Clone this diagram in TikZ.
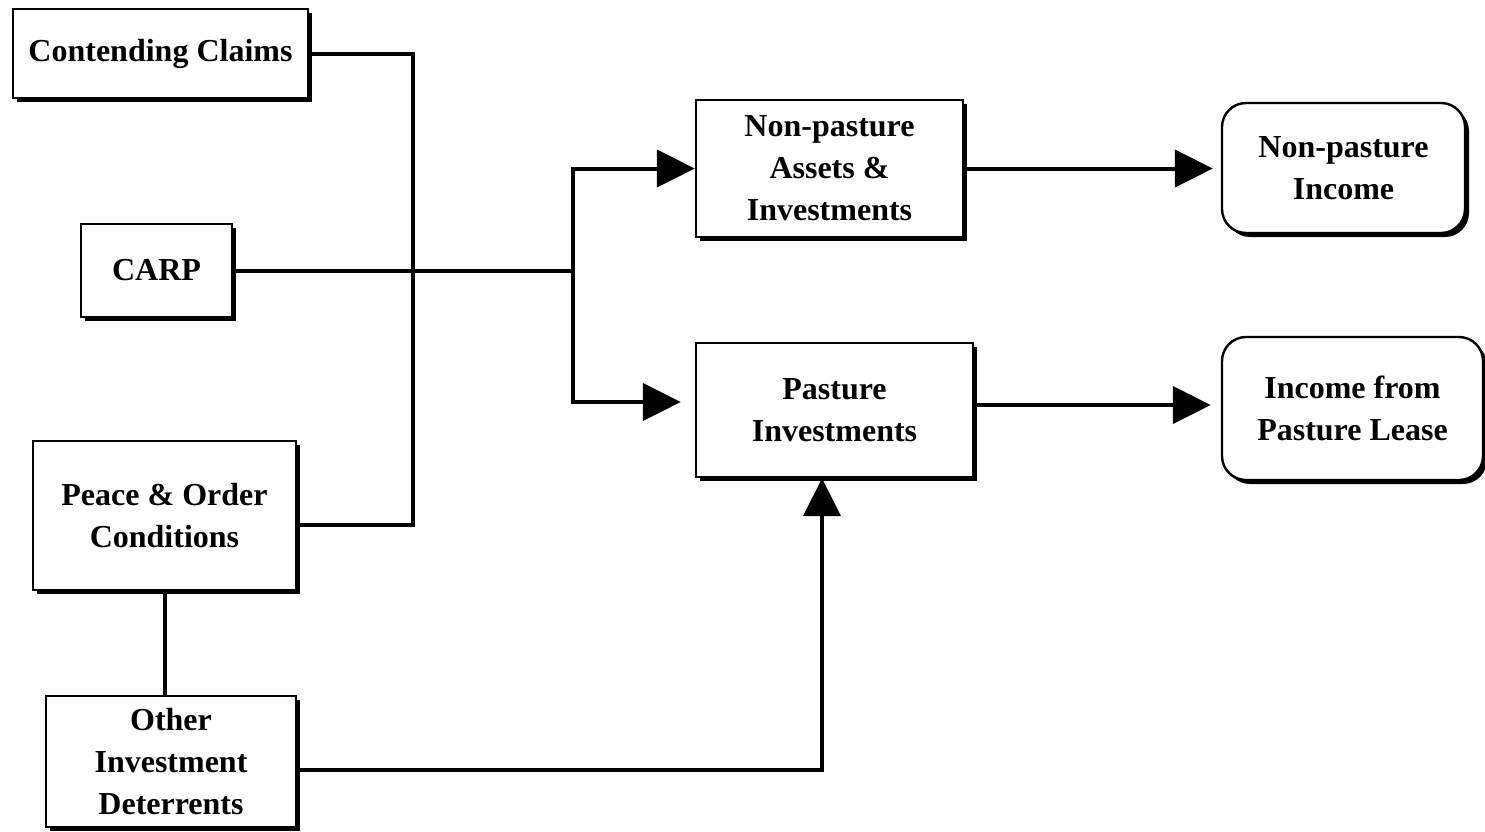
\documentclass[tikz,border=0pt]{standalone}
\usepackage{fontspec}
\setmainfont{Liberation Serif}
\usetikzlibrary{shadows,arrows.meta,calc}
\begin{document}
\begin{tikzpicture}[x=0.5pt,y=-0.5pt,
  box/.style={draw=black, line width=1.2pt, fill=white, align=center,
    font=\bfseries\fontsize{16}{21}\selectfont, inner sep=0pt,
    drop shadow={shadow xshift=2pt, shadow yshift=-2pt, opacity=1, fill=black}},
  rbox/.style={box, rounded corners=12pt},
  conn/.style={line width=2pt},
  arr/.style={conn, -{Triangle[length=19pt,width=18.5pt]}}
]
\useasboundingbox (0,0) rectangle (1485,831);

\node[box, minimum width=147.5pt, minimum height=44.5pt] (CC) at (160.5,53.5) {Contending Claims};
\node[box, minimum width=75.5pt, minimum height=46.5pt] (CARP) at (156.5,270.5) {CARP};
\node[box, minimum width=131.5pt, minimum height=74.5pt] (PO) at (164.5,515.5) {Peace \& Order\\Conditions};
\node[box, minimum width=125pt, minimum height=65.5pt] (OD) at (171,761.5) {Other\\Investment\\Deterrents};
\node[box, minimum width=133.5pt, minimum height=68.5pt] (NPA) at (829.5,168.5) {Non-pasture\\Assets \&\\Investments};
\node[box, minimum width=138.5pt, minimum height=67pt] (PI) at (834.5,410) {Pasture\\Investments};
\node[rbox, minimum width=121.5pt, minimum height=65pt] (NPI) at (1343.5,168) {Non-pasture\\Income};
\node[rbox, minimum width=130.5pt, minimum height=71.5pt] (IPL) at (1352.5,408.5) {Income from\\Pasture Lease};

\coordinate (j1) at (413,525);
\coordinate (split) at (573,270.5);
\coordinate (j2) at (822,770);

% Contending claims & peace-order bracket
\draw[conn] (CC.east) -| (j1) -- (PO.east |- j1);
% CARP to split
\draw[conn] (CARP.east) -- (split);
\draw[arr] (split) |- (NPA.west);
\draw[arr, shorten >=7pt] (split) |- ($(PI.west)+(0,-8)$);
% outputs
\draw[arr, shorten >=4pt] (NPA.east) -- (NPA.east -| NPI.west);
\draw[arr, shorten >=5pt] ($(PI.east)+(0,-5)$) -- ($(PI.east -| IPL.west)+(0,-5)$);
% peace-order to other
\draw[conn] (PO.south) -- (PO.south |- OD.north);
% other to pasture
\draw[arr] (OD.east |- j2) -- (j2) -- (j2 |- PI.south);
\end{tikzpicture}
\end{document}
